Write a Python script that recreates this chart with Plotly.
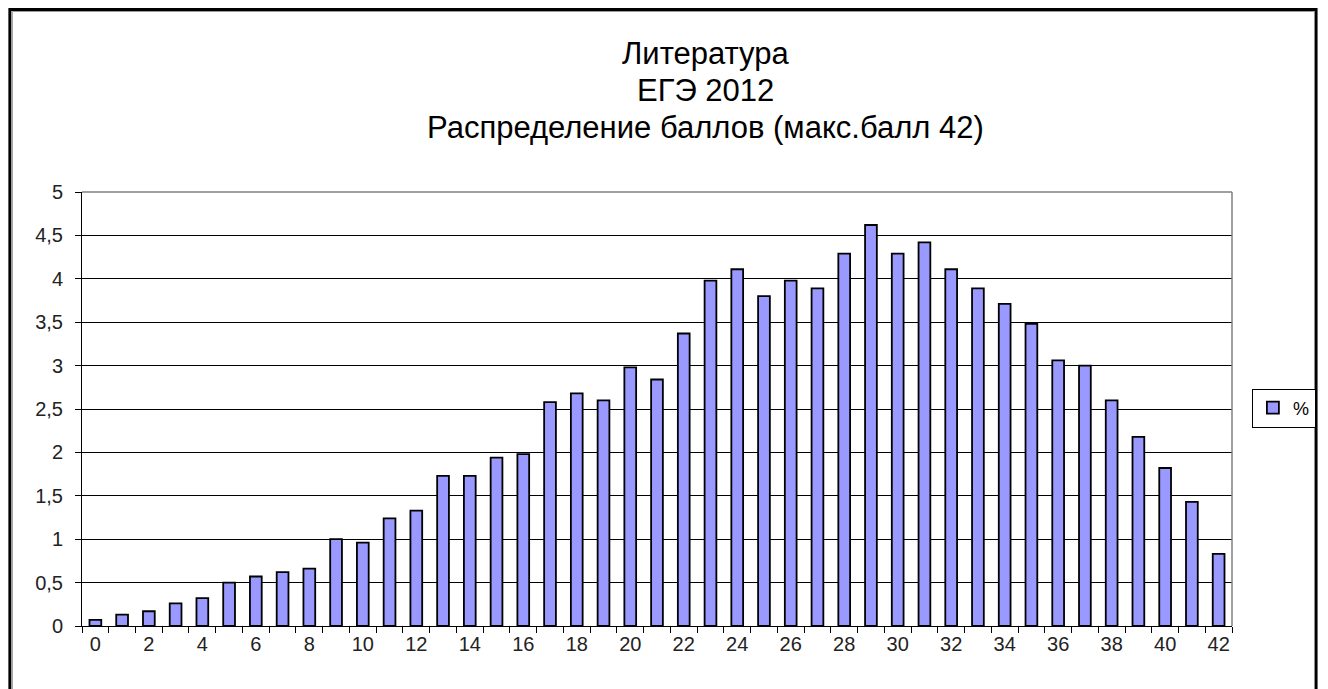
import plotly.graph_objects as go

scores = list(range(0, 43))
percent = [0.07, 0.13, 0.17, 0.26, 0.32, 0.50, 0.57, 0.62, 0.66, 1.00,
           0.96, 1.24, 1.33, 1.73, 1.73, 1.94, 1.98, 2.58, 2.68, 2.60,
           2.98, 2.84, 3.37, 3.98, 4.11, 3.80, 3.98, 3.89, 4.29, 4.62,
           4.29, 4.42, 4.11, 3.89, 3.71, 3.48, 3.06, 3.00, 2.60, 2.18,
           1.82, 1.43, 0.83]
series_name = "%"
title_lines = ["Литература", "ЕГЭ 2012", "Распределение баллов (макс.балл 42)"]
y_ticks = [0, 0.5, 1, 1.5, 2, 2.5, 3, 3.5, 4, 4.5, 5]
x_ticks = list(range(0, 43, 2))

OFF = 8  # default page body margin
W, H = 1328 - OFF, 689 - OFF
L, R, T, B = 82, 1238, 192, 626  # plot area in screen pixels
FONT = "Liberation Sans, Arial, sans-serif"

def px(x):
    return (x - L) / (R - L)

def py(y):
    return (B - y) / (B - T)

fig = go.Figure()
fig.add_trace(go.Bar(
    x=scores, y=percent, name=series_name,
    marker=dict(color="#9999FF", line=dict(color="black", width=1.8)),
    showlegend=True,
))

fig.update_layout(
    width=W, height=H,
    margin=dict(l=L - OFF, r=W - (R - OFF), t=T - OFF, b=H - (B - OFF)),
    paper_bgcolor="white", plot_bgcolor="white",
    separators=", ",
    bargap=0.56,
    font=dict(family=FONT, size=20, color="black"),
    showlegend=True,
    legend=dict(x=px(1258), y=py(408), xanchor="left", yanchor="middle",
                bordercolor="black", borderwidth=1, bgcolor="white",
                font=dict(size=18), itemwidth=30, tracegroupgap=0),
    xaxis=dict(
        range=[-0.5, 42.5], tickvals=x_ticks, ticktext=[str(v) for v in x_ticks],
        ticks="", showgrid=False, zeroline=False,
        showline=True, linecolor="black", linewidth=1,
        minor=dict(ticks="outside", tick0=0.5, dtick=1, ticklen=6,
                   tickcolor="black", tickwidth=1, showgrid=False),
        tickfont=dict(size=20, color="#222"),
    ),
    yaxis=dict(
        range=[0, 5], tickvals=y_ticks,
        ticks="outside", ticklen=6, tickcolor="black",
        ticklabelstandoff=8,
        showgrid=True, gridcolor="black", gridwidth=1,
        zeroline=False, showline=True, linecolor="black", linewidth=1,
        tickfont=dict(size=20, color="#222"),
    ),
)

# plot area top and right border in grey
fig.add_shape(type="line", xref="paper", yref="paper", x0=0, x1=1, y0=1, y1=1,
              line=dict(color="#808080", width=1.5))
fig.add_shape(type="line", xref="paper", yref="paper", x0=1, x1=1, y0=0, y1=1,
              line=dict(color="#808080", width=1.5))

# outer chart frame
fig.add_shape(type="rect", xref="paper", yref="paper",
              x0=px(9.5), x1=px(1322.5), y0=py(9.5), y1=py(720),
              line=dict(color="black", width=3), layer="above")
fig.add_shape(type="line", xref="paper", yref="paper",
              x0=px(12), x1=px(1321), y0=py(11.5), y1=py(11.5),
              line=dict(color="#9a9a9a", width=1), layer="above")
fig.add_shape(type="line", xref="paper", yref="paper",
              x0=px(12), x1=px(12), y0=py(11.5), y1=py(720),
              line=dict(color="#9a9a9a", width=1), layer="above")

for txt, ycen in zip(title_lines, [53, 90, 127]):
    fig.add_annotation(text=txt, xref="paper", yref="paper",
                       x=px(709), y=py(ycen), xanchor="center", yanchor="middle",
                       showarrow=False, font=dict(family=FONT, size=31, color="black"))

fig.write_html("out.html")
